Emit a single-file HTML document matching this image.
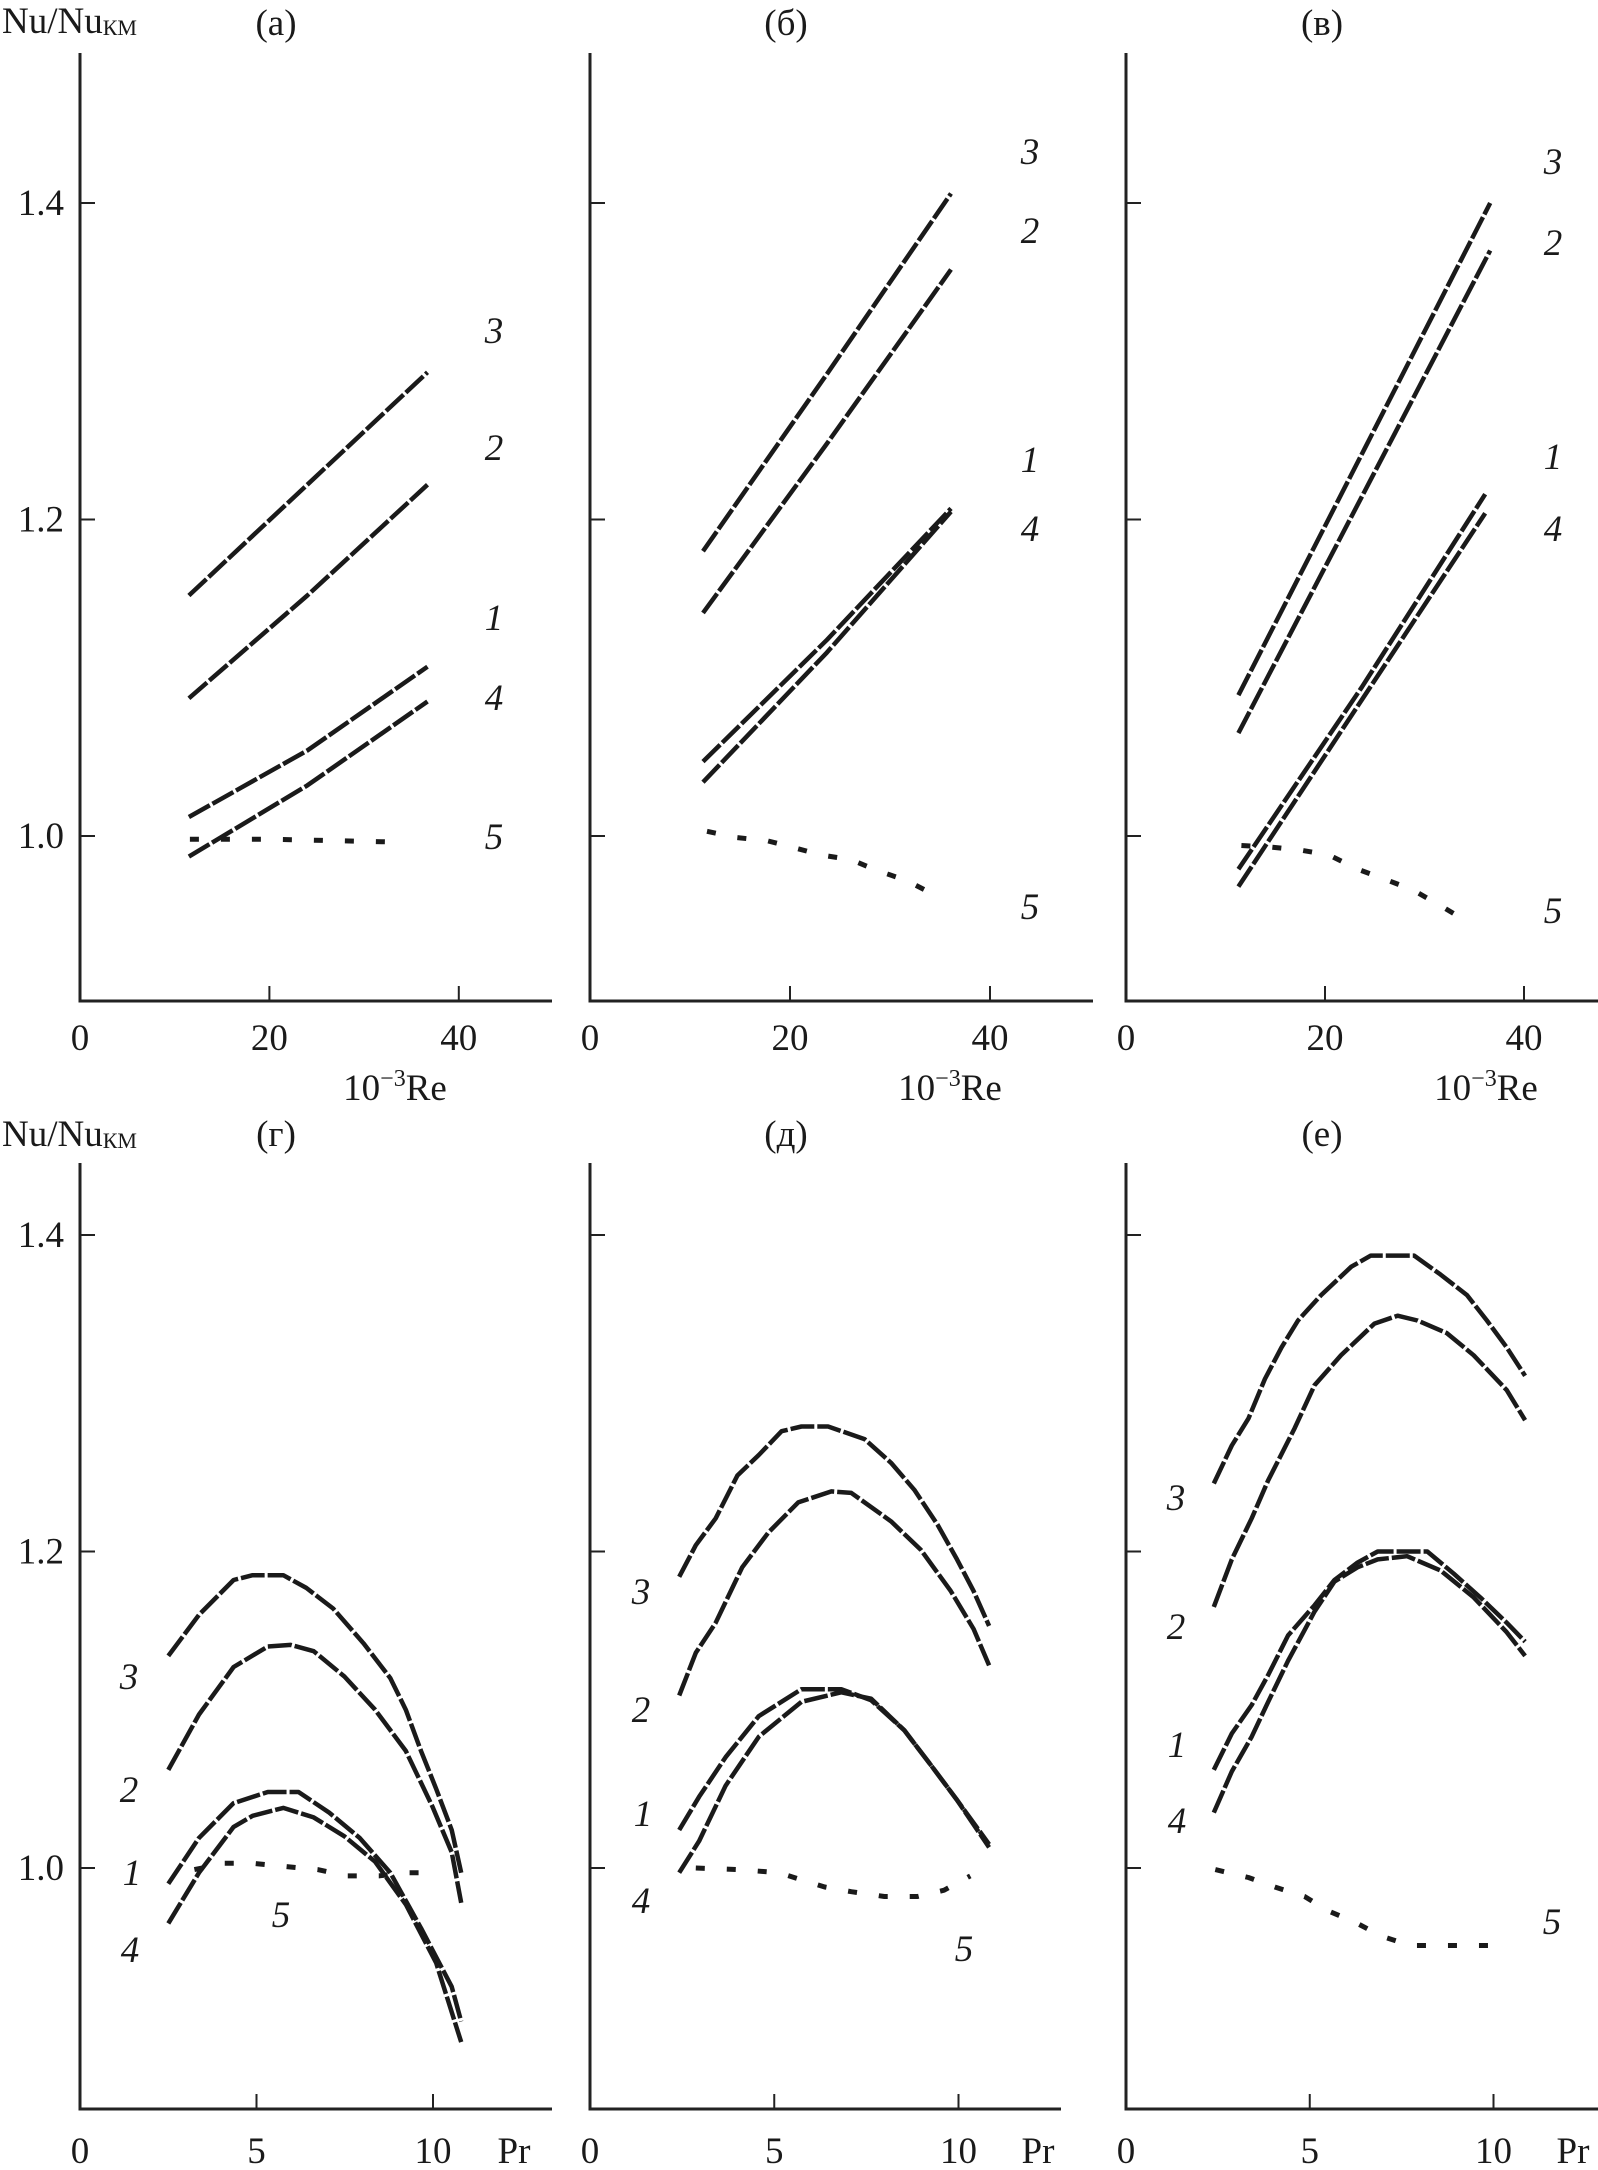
<!DOCTYPE html>
<html><head><meta charset="utf-8">
<style>
html,body{margin:0;padding:0;background:#fff;}
svg{display:block;}
text{font-family:"Liberation Serif","DejaVu Serif",serif;fill:#1a1a1a;}
.tick{font-size:37px;}
.ttl{font-size:37px;}
.cl{font-size:37px;font-style:italic;}
</style></head>
<body>
<svg id="chart" width="1598" height="2170" viewBox="0 0 1598 2170" xmlns="http://www.w3.org/2000/svg">
</svg>
<script>
// ---- data: top row (x = 10^-3 Re), bottom row (x = Pr) ----
const curveNames = ["1","2","3","4","5"];
// panel a
const a_x1=[11.5,24,36.7], a_y1=[1.012,1.054,1.107];
const a_x2=[11.5,24,36.7], a_y2=[1.087,1.152,1.222];
const a_x3=[11.5,24,36.7], a_y3=[1.152,1.222,1.293];
const a_x4=[11.5,24,36.7], a_y4=[0.987,1.032,1.085];
const a_x5=[11.6,20,27,34.5], a_y5=[0.998,0.998,0.997,0.996];
// panel b
const b_x1=[11.3,23.7,36.1], b_y1=[1.047,1.124,1.207];
const b_x2=[11.3,23.7,36.1], b_y2=[1.141,1.248,1.358];
const b_x3=[11.3,23.7,36.1], b_y3=[1.180,1.292,1.406];
const b_x4=[11.3,23.7,36.1], b_y4=[1.034,1.116,1.205];
const b_x5=[11.7,14.7,17.7,20.2,23.1,26.1,28.8,31.6,34.4], b_y5=[1.003,0.999,0.997,0.993,0.988,0.985,0.978,0.972,0.963];
// panel v
const v_x1=[11.3,23.7,36.1], v_y1=[0.979,1.094,1.216];
const v_x2=[11.3,24,36.6], v_y2=[1.065,1.218,1.370];
const v_x3=[11.3,24,36.6], v_y3=[1.089,1.245,1.400];
const v_x4=[11.3,23.7,36.1], v_y4=[0.968,1.086,1.204];
const v_x5=[11.6,14.6,17.6,20.4,23.3,26.3,28.8,31.6,34.0], v_y5=[0.994,0.993,0.991,0.988,0.979,0.972,0.966,0.956,0.947];
// panel g
const g_x1=[2.5,3.37,4.35,5.32,6.19,7.06,7.92,8.79,9.66,10.53,10.8], g_y1=[0.990,1.019,1.041,1.048,1.048,1.035,1.019,0.997,0.962,0.925,0.903];
const g_x2=[2.5,3.37,4.35,5.32,5.97,6.62,7.49,8.36,9.23,9.98,10.53,10.8], g_y2=[1.062,1.097,1.127,1.140,1.141,1.137,1.121,1.100,1.074,1.039,1.010,0.978];
const g_x3=[2.5,3.37,4.35,4.89,5.76,6.41,7.17,8.03,8.79,9.23,9.66,10.09,10.53,10.8], g_y3=[1.134,1.160,1.182,1.185,1.185,1.177,1.164,1.142,1.120,1.100,1.074,1.050,1.024,0.997];
const g_x4=[2.5,3.37,4.35,4.89,5.76,6.62,7.49,8.36,9.23,10.09,10.8], g_y4=[0.965,0.997,1.026,1.033,1.038,1.032,1.020,1.004,0.977,0.940,0.890];
const g_x5=[3.24,4.1,4.89,6.73,7.55,8.47,9.23,10.2], g_y5=[0.999,1.003,1.003,0.999,0.995,0.995,0.997,0.997];
// panel d
const d_x1=[2.42,2.96,3.68,4.58,5.74,6.82,7.63,8.53,9.25,9.96,10.83], d_y1=[1.024,1.045,1.070,1.096,1.113,1.113,1.106,1.087,1.065,1.043,1.015];
const d_x2=[2.42,2.87,3.41,4.13,4.84,5.65,6.55,7.09,8.17,8.98,9.79,10.41,10.83], d_y2=[1.109,1.136,1.155,1.190,1.212,1.231,1.238,1.237,1.219,1.201,1.175,1.151,1.128];
const d_x3=[2.42,2.87,3.41,4.0,4.58,5.2,5.74,6.46,7.45,8.17,8.8,9.43,9.96,10.41,10.83], d_y3=[1.184,1.204,1.221,1.248,1.261,1.276,1.279,1.279,1.271,1.256,1.239,1.217,1.195,1.175,1.153];
const d_x4=[2.42,2.96,3.68,4.58,5.74,6.82,7.63,8.53,9.25,9.96,10.83], d_y4=[0.997,1.017,1.052,1.083,1.105,1.111,1.107,1.087,1.065,1.043,1.013];
const d_x5=[2.87,4.04,5.12,6.37,7.09,7.99,8.89,9.61,10.32], d_y5=[1.000,0.999,0.997,0.988,0.985,0.982,0.982,0.986,0.995];
// panel e
const e_x1=[2.39,2.88,3.42,3.87,4.41,5.13,5.67,6.30,6.85,7.65,8.20,8.92,9.64,10.36,10.86], e_y1=[1.062,1.085,1.103,1.122,1.147,1.166,1.182,1.193,1.200,1.200,1.200,1.186,1.171,1.155,1.143];
const e_x2=[2.39,2.88,3.42,3.87,4.59,5.13,5.85,6.76,7.39,7.93,8.73,9.46,10.36,10.86], e_y2=[1.165,1.195,1.221,1.245,1.278,1.305,1.324,1.344,1.349,1.346,1.338,1.324,1.302,1.283];
const e_x3=[2.39,2.88,3.33,3.78,4.23,4.68,5.31,6.13,6.66,7.84,8.56,9.28,9.82,10.36,10.86], e_y3=[1.243,1.267,1.284,1.309,1.329,1.346,1.362,1.380,1.387,1.387,1.375,1.362,1.346,1.329,1.311];
const e_x4=[2.39,2.88,3.42,3.87,4.41,5.13,5.67,6.30,6.85,7.65,8.56,9.46,10.36,10.86], e_y4=[1.035,1.061,1.083,1.105,1.131,1.162,1.181,1.190,1.195,1.197,1.188,1.171,1.149,1.134];
const e_x5=[2.43,3.33,4.05,4.86,5.49,6.21,6.94,7.74,8.73,9.91,10.18], e_y5=[0.999,0.994,0.988,0.982,0.973,0.966,0.957,0.951,0.951,0.951,0.957];
// tick labels
const yTickVals=[1.0,1.2,1.4];
const yTickLabels=["1.0","1.2","1.4"];
const reTickVals=[0,20,40];
const prTickVals=[0,5,10];

const NS="http://www.w3.org/2000/svg";
const svg=document.getElementById('chart');
function mk(tag,attrs,parent){const e=document.createElementNS(NS,tag);for(const k in attrs)e.setAttribute(k,attrs[k]);(parent||svg).appendChild(e);return e;}

const panels=[
 {id:"a",title:"(а)",x0:80,kx:9.47,xEnd:552,row:0,ticks:reTickVals,xl:"re",xtX:395,labelX:494,labY:[617,447,330,697,836],
  data:[[a_x1,a_y1],[a_x2,a_y2],[a_x3,a_y3],[a_x4,a_y4],[a_x5,a_y5]]},
 {id:"b",title:"(б)",x0:590,kx:10,xEnd:1093,row:0,ticks:reTickVals,xl:"re",xtX:950,labelX:1030,labY:[459,230,151,528,906],
  data:[[b_x1,b_y1],[b_x2,b_y2],[b_x3,b_y3],[b_x4,b_y4],[b_x5,b_y5]]},
 {id:"v",title:"(в)",x0:1126,kx:9.95,xEnd:1598,row:0,ticks:reTickVals,xl:"re",xtX:1486,labelX:1553,labY:[456,242,161,528,910],
  data:[[v_x1,v_y1],[v_x2,v_y2],[v_x3,v_y3],[v_x4,v_y4],[v_x5,v_y5]]},
 {id:"g",title:"(г)",x0:80,kx:35.3,xEnd:552,row:1,ticks:prTickVals,xl:"pr",labelXs:[132,129,129,130,281],labY:[1872,1789,1676,1949,1914],
  data:[[g_x1,g_y1],[g_x2,g_y2],[g_x3,g_y3],[g_x4,g_y4],[g_x5,g_y5]]},
 {id:"d",title:"(д)",x0:590,kx:36.85,xEnd:1061,row:1,ticks:prTickVals,xl:"pr",labelXs:[643,641,641,641,964],labY:[1813,1709,1591,1900,1948],
  data:[[d_x1,d_y1],[d_x2,d_y2],[d_x3,d_y3],[d_x4,d_y4],[d_x5,d_y5]]},
 {id:"e",title:"(е)",x0:1126,kx:36.75,xEnd:1598,row:1,ticks:prTickVals,xl:"pr",labelXs:[1177,1176,1176,1177,1552],labY:[1744,1626,1497,1820,1921],
  data:[[e_x1,e_y1],[e_x2,e_y2],[e_x3,e_y3],[e_x4,e_y4],[e_x5,e_y5]]}
];
const rows=[{y1:836,top:53,axis:1001,tickBase:1050,titleBase:35},{y1:1868,top:1163,axis:2109,tickBase:2163,titleBase:1146}];
const KY=1582.5;

panels.forEach(p=>{
  const r=rows[p.row];
  const sx=v=>p.x0+v*p.kx;
  const sy=v=>r.y1-(v-1.0)*KY;
  const g=mk('g',{});
  
  
  const ya=mk('line',{x1:p.x0,y1:r.top,x2:p.x0,y2:r.axis+1.5,stroke:'#222','stroke-width':3},g);
  
  
  const xa=mk('line',{x1:p.x0-1.5,y1:r.axis,x2:p.xEnd,y2:r.axis,stroke:'#222','stroke-width':3},g);
  
  
  yTickVals.forEach((v,i)=>{
    const t=mk('line',{x1:p.x0,y1:sy(v),x2:p.x0+15,y2:sy(v),stroke:'#222','stroke-width':2},g);
    
    
    if(p.x0===80){
      const tl=mk('text',{x:p.x0-16,y:sy(v)+12,'text-anchor':'end',class:'tick'},g);
      tl.textContent=yTickLabels[i];
      
      
    }
  });
  p.ticks.forEach(v=>{
    if(v>0){
      const t=mk('line',{x1:sx(v),y1:r.axis,x2:sx(v),y2:r.axis-15,stroke:'#222','stroke-width':2},g);
      
      
    }
    const tl=mk('text',{x:sx(v),y:r.tickBase,'text-anchor':'middle',class:'tick'},g);
    tl.textContent=String(v);
    
    
  });
  const tt=mk('text',{x:p.x0+196,y:r.titleBase,'text-anchor':'middle',class:'ttl'},g);
  tt.textContent=p.title;
  
  
  if(p.xl==='re'){
    const xt=mk('text',{x:p.xtX,y:1100,'text-anchor':'middle',class:'ttl'},g);
    xt.innerHTML='10<tspan dy="-14" font-size="24">−3</tspan><tspan dy="14">Re</tspan>';
    
    
  } else {
    const px = p.id==='g'?514:(p.id==='d'?1038:1573);
    const xt=mk('text',{x:px,y:r.tickBase,'text-anchor':'middle',class:'ttl'},g);
    xt.textContent='Pr';
    
    
  }
  p.data.forEach((d,i)=>{
    const pts=d[0].map((x,k)=>sx(x).toFixed(1)+','+sy(d[1][k]).toFixed(1)).join(' ');
    const isFive=i===4;
    const pl=mk('polyline',{points:pts,fill:'none',stroke:'#1a1a1a','stroke-width':isFive?5:4.5,
      'stroke-dasharray':isFive?'9 22':'24 3','stroke-linejoin':'round'},g);
    
    
    const lx=p.labelXs?p.labelXs[i]:p.labelX;
    const lt=mk('text',{x:lx,y:p.labY[i]+13,'text-anchor':'middle',class:'cl'},g);
    lt.textContent=curveNames[i];
    
    
  });
});
[33,1146].forEach(b=>{
  const t=mk('text',{x:2,y:b,class:'ttl'});
  t.innerHTML='Nu/Nu<tspan font-size="22" dy="2">КМ</tspan>';
  
  
});
</script>
</body></html>
